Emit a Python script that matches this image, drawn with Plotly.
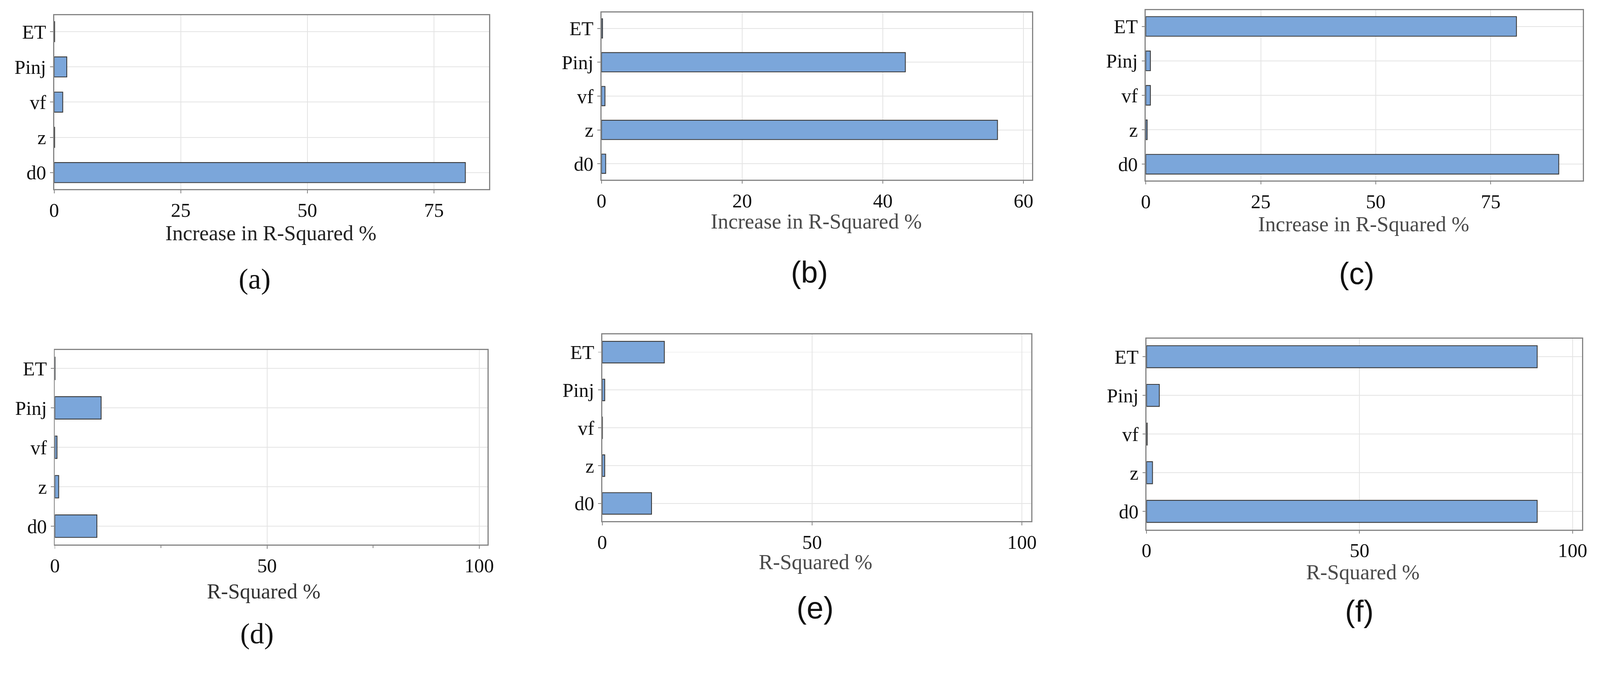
import plotly.graph_objects as go

# ---------------- data ----------------
categories = ["d0", "z", "vf", "Pinj", "ET"]          # bottom -> top

vals_a = [81.2, 0.1, 1.7, 2.5, 0.1]
vals_b = [0.6, 56.3, 0.5, 43.2, 0.15]
vals_c = [89.8, 0.3, 1.0, 1.0, 80.6]
vals_d = [9.9, 0.9, 0.5, 10.9, 0.05]
vals_e = [11.75, 0.6, 0.05, 0.6, 14.8]
vals_f = [91.7, 1.4, 0.15, 3.0, 91.7]

title_top = "Increase in R-Squared %"
title_bottom = "R-Squared %"
panel_labels = ["(a)", "(b)", "(c)", "(d)", "(e)", "(f)"]

# ---------------- layout geometry ----------------
W, H = 4230, 1728
SERIF = "Liberation Serif"
SANS = "Liberation Sans"

panels = [
    dict(v=vals_a, x=(131, 1289), y=(40, 500), xmax=85.9, dtick=25, title=title_top,
         tpos=(708, 616), lpos=(665, 737), lfont=SERIF, tcol="#222222", minor=False),
    dict(v=vals_b, x=(1588, 2734), y=(33, 475), xmax=61.2, dtick=20, title=title_top,
         tpos=(2160, 585), lpos=(2142, 720), lfont=SANS, tcol="#4a4a4a", minor=False),
    dict(v=vals_c, x=(3037, 4200), y=(27, 477), xmax=95.0, dtick=25, title=title_top,
         tpos=(3617, 592), lpos=(3598, 723), lfont=SANS, tcol="#4a4a4a", minor=False),
    dict(v=vals_d, x=(133, 1285), y=(925, 1440), xmax=102.0, dtick=50, title=title_bottom,
         tpos=(689, 1563), lpos=(671, 1675), lfont=SERIF, tcol="#333333", minor=True),
    dict(v=vals_e, x=(1590, 2732), y=(884, 1378), xmax=102.2, dtick=50, title=title_bottom,
         tpos=(2158, 1486), lpos=(2157, 1607), lfont=SANS, tcol="#4a4a4a", minor=False),
    dict(v=vals_f, x=(3039, 4198), y=(895, 1400), xmax=102.2, dtick=50, title=title_bottom,
         tpos=(3615, 1513), lpos=(3606, 1616), lfont=SANS, tcol="#4a4a4a", minor=False),
]

fig = go.Figure()
annotations = []

for i, p in enumerate(panels):
    n = i + 1
    xa = "x" if n == 1 else f"x{n}"
    ya = "y" if n == 1 else f"y{n}"
    fig.add_trace(go.Bar(
        x=p["v"], y=categories, orientation="h", width=0.57,
        marker=dict(color="#7ba6da", line=dict(color="#383838", width=2.2)),
        xaxis=xa, yaxis=ya, showlegend=False,
    ))
    xdom = [p["x"][0] / W, p["x"][1] / W]
    ydom = [1 - p["y"][1] / H, 1 - p["y"][0] / H]
    xkey = "xaxis" if n == 1 else f"xaxis{n}"
    ykey = "yaxis" if n == 1 else f"yaxis{n}"
    xaxis = dict(
        domain=xdom, anchor=ya, range=[0, p["xmax"]], dtick=p["dtick"], tick0=0,
        showgrid=True, gridcolor="#e4e4e4", gridwidth=2, zeroline=False,
        showline=True, linecolor="#858585", linewidth=2.5, mirror=True,
        ticks="outside", ticklen=8, tickwidth=2, tickcolor="#858585",
        tickfont=dict(family=SERIF, size=52, color="#111111"),
    )
    if p["minor"]:
        xaxis["minor"] = dict(dtick=25, tick0=0, ticks="outside", ticklen=6,
                              tickwidth=2, tickcolor="#858585", showgrid=False)
    fig.layout[xkey] = xaxis
    fig.layout[ykey] = dict(
        domain=ydom, anchor=xa, type="category", categoryorder="array",
        categoryarray=categories, range=[-0.47, 4.47],
        showgrid=True, gridcolor="#e4e4e4", gridwidth=2, zeroline=False,
        showline=True, linecolor="#858585", linewidth=2.5, mirror=True,
        ticks="outside", ticklen=8, tickwidth=2, tickcolor="#858585",
        tickfont=dict(family=SERIF, size=52, color="#111111"),
    )
    annotations.append(dict(
        text=p["title"], xref="paper", yref="paper",
        x=p["tpos"][0] / W, y=1 - p["tpos"][1] / H,
        xanchor="center", yanchor="middle", showarrow=False,
        font=dict(family=SERIF, size=56, color=p["tcol"]),
    ))
    annotations.append(dict(
        text=panel_labels[i], xref="paper", yref="paper",
        x=p["lpos"][0] / W, y=1 - p["lpos"][1] / H,
        xanchor="center", yanchor="middle", showarrow=False,
        font=dict(family=p["lfont"], size=76 if p["lfont"] == SERIF else 80, color="#111111"),
    ))

fig.update_layout(
    width=W, height=H, margin=dict(l=0, r=0, t=0, b=0),
    paper_bgcolor="white", plot_bgcolor="white",
    annotations=annotations, bargap=0.4,
)

# fit the fixed-size figure into whatever viewport the browser provides
fit_js = """
(function(){
  var d = document.getElementById('{plot_id}');
  document.documentElement.style.margin = '0';
  document.documentElement.style.overflow = 'hidden';
  document.body.style.margin = '0';
  document.body.style.overflow = 'hidden';
  var s = Math.min(window.innerWidth / %d, window.innerHeight / %d);
  if (s > 0 && Math.abs(s - 1) > 0.002) {
    d.style.transformOrigin = '0 0';
    d.style.transform = 'scale(' + s + ')';
  }
})();
""" % (W, H)

fig.write_html("out.html", post_script=fit_js, config={"displayModeBar": False})
